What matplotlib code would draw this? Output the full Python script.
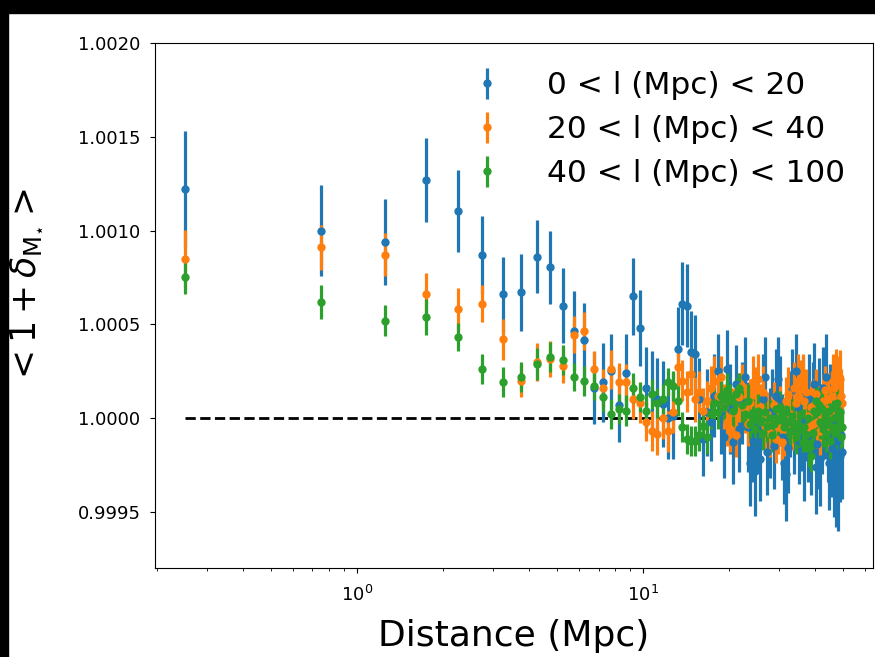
import matplotlib
matplotlib.use('Agg')
import matplotlib.pyplot as plt
from matplotlib.patches import Rectangle
from matplotlib.ticker import FormatStrFormatter
import numpy as np

# bin centres (Mpc)
distance = [0.25, 0.75, 1.25, 1.75, 2.25, 2.75, 3.25, 3.75, 4.25, 4.75,
            5.25, 5.75, 6.25, 6.75, 7.25, 7.75, 8.25, 8.75, 9.25, 9.75,
            10.25, 10.75, 11.25, 11.75, 12.25, 12.75, 13.25, 13.75, 14.25, 14.75,
            15.25, 15.75, 16.25, 16.75, 17.25, 17.75, 18.25, 18.75, 19.25, 19.75,
            20.25, 20.75, 21.25, 21.75, 22.25, 22.75, 23.25, 23.75, 24.25, 24.75,
            25.25, 25.75, 26.25, 26.75, 27.25, 27.75, 28.25, 28.75, 29.25, 29.75,
            30.25, 30.75, 31.25, 31.75, 32.25, 32.75, 33.25, 33.75, 34.25, 34.75,
            35.25, 35.75, 36.25, 36.75, 37.25, 37.75, 38.25, 38.75, 39.25, 39.75,
            40.25, 40.75, 41.25, 41.75, 42.25, 42.75, 43.25, 43.75, 44.25, 44.75,
            45.25, 45.75, 46.25, 46.75, 47.25, 47.75, 48.25, 48.75, 49.25, 49.75]

# deviations from 1, in units of 1e-4
blue = [12.2, 10.0, 9.4, 12.7, 11.05, 8.7, 6.6, 6.7, 8.6, 8.05,
        6.0, 4.65, 4.15, 1.6, 1.9, 2.5, 0.7, 2.4, 6.5, 4.8,
        1.6, 1.3, 1.0, 0.75, 0.0, 0.1, 3.7, 6.1, 6.0, 3.5,
        3.4, 1.0, -1.1, 0.3, -0.2, 1.2, 2.5, 0.4, -1.0, 2.6,
        0.5, -1.3, 1.8, -0.6, 0.8, 2.2, -0.5, -2.4, -1.2, -2.8,
        -0.4, -2.2, 1.0, 2.2, -1.8, -0.8, 0.4, -1.5, 1.2, 2.1,
        0.9, -1.0, -2.4, -3.0, -1.6, 0.2, 1.5, -0.5, 2.5, 0.6,
        -1.2, -0.3, 1.1, -2.0, 0.0, -0.9, 1.0, -1.8, 0.5, 1.8,
        -2.6, -1.4, 0.9, -2.2, -0.6, 1.6, 0.3, 2.2, -1.0, -2.4,
        0.5, -1.6, -0.3, -2.8, -3.4, -1.2, -3.6, -2.0, -0.9, -1.8]
blue_err = [3.1, 2.45, 2.3, 2.25, 2.2, 2.1, 2.0, 2.05, 1.95, 1.95,
            2.0, 2.1, 2.0, 1.9, 2.1, 2.0, 2.0, 2.1, 2.05, 2.05,
            2.2, 2.3, 2.2, 2.3, 2.2, 2.3, 2.2, 2.2, 2.2, 2.2,
            2.1, 2.2, 2.0, 2.3, 2.1, 2.2, 2.0, 2.3, 2.2, 2.1,
            2.4, 2.2, 2.1, 2.3, 2.2, 2.1, 2.4, 2.3, 2.2, 2.4,
            2.3, 2.2, 2.4, 2.1, 2.3, 2.4, 2.2, 2.3, 2.5, 2.2,
            2.4, 2.3, 2.2, 2.5, 2.4, 2.3, 2.2, 2.5, 2.0, 2.4,
            2.3, 2.5, 2.2, 2.4, 2.3, 2.5, 2.4, 2.3, 2.5, 2.2,
            2.5, 2.4, 2.3, 2.5, 2.4, 2.2, 2.5, 2.3, 2.4, 2.5,
            2.4, 2.6, 2.3, 2.5, 2.4, 2.6, 2.4, 2.5, 2.6, 2.5]

orange = [8.5, 9.1, 8.7, 6.6, 5.8, 6.1, 4.2, 2.0, 3.0, 3.15,
          2.8, 4.45, 4.65, 2.6, 1.6, 2.6, 1.9, 1.9, 1.0, 0.8,
          -0.2, -0.7, -0.85, 0.0, -0.7, 0.3, 2.7, 2.0, 1.4, 2.35,
          1.0, 1.4, 0.4, 0.9, 1.6, 2.0, 1.2, 2.2, 0.6, -0.2,
          -0.6, 0.3, -0.9, 1.1, 1.7, 0.5, -0.3, 0.8, 1.9, 1.5,
          2.1, 0.6, 1.4, -0.4, 0.2, -0.8, -0.2, 0.7, -1.1, -0.5,
          0.4, -1.3, -0.6, 0.9, 1.3, 0.2, -0.4, 1.6, 0.8, 2.0,
          1.1, 1.7, 2.1, 0.9, 1.4, 0.1, -0.5, 0.6, -0.3, 0.7,
          1.3, -0.2, 0.4, -0.7, 0.1, 0.9, 1.5, 0.5, 1.0, -0.4,
          0.3, 1.2, 2.0, 1.6, 2.3, 1.8, 0.9, 2.1, 1.2, 0.8]
orange_err = [1.5, 1.2, 1.15, 1.15, 1.15, 1.0, 1.1, 0.9, 1.0, 0.95,
              0.95, 1.0, 1.0, 0.95, 1.0, 1.05, 1.05, 1.0, 1.05, 1.05,
              1.05, 1.05, 1.1, 1.1, 1.1, 1.1, 1.1, 1.1, 1.1, 1.1,
              1.2, 1.1, 1.2, 1.1, 1.2, 1.3, 1.2, 1.1, 1.2, 1.3,
              1.2, 1.3, 1.2, 1.3, 1.2, 1.3, 1.2, 1.3, 1.4, 1.2,
              1.3, 1.2, 1.4, 1.3, 1.2, 1.3, 1.4, 1.2, 1.3, 1.4,
              1.3, 1.2, 1.4, 1.3, 1.4, 1.2, 1.3, 1.4, 1.3, 1.4,
              1.3, 1.4, 1.3, 1.4, 1.2, 1.4, 1.3, 1.4, 1.3, 1.4,
              1.3, 1.4, 1.3, 1.4, 1.3, 1.4, 1.3, 1.4, 1.4, 1.3,
              1.4, 1.3, 1.4, 1.5, 1.4, 1.5, 1.4, 1.5, 1.4, 1.5]

green = [7.5, 6.2, 5.2, 5.4, 4.3, 2.6, 1.9, 2.2, 2.9, 3.25,
         3.1, 2.2, 2.0, 1.7, 1.1, 0.2, 0.5, 0.4, 1.6, 1.1,
         0.4, 1.3, 0.8, 1.0, 1.9, 1.7, 0.9, -0.5, -1.1, -1.2,
         -1.2, -0.9, -0.4, -1.0, 0.2, 0.8, 0.3, 1.2, 0.6, 1.5,
         1.0, 0.4, 1.3, 1.6, 0.7, 0.2, 0.9, -0.3, 0.1, -0.6,
         0.4, -0.2, -0.8, 0.3, -0.4, 0.0, -0.9, -0.3, 0.5, -0.1,
         0.6, 0.2, -0.5, 0.3, -0.2, -0.7, 0.1, -0.4, -1.0, -0.3,
         -0.6, 0.2, -1.3, -0.5, -0.9, 0.0, -1.6, -2.0, -0.8, 0.4,
         0.9, 0.3, 0.7, -0.2, 0.5, -0.6, 0.1, -0.9, -0.3, 0.4,
         -1.2, -0.5, 0.6, 0.0, -0.7, 0.8, -0.4, 0.3, -1.0, -0.5]
green_err = [0.9, 0.9, 0.8, 0.95, 0.75, 0.8, 0.8, 0.8, 0.85, 0.8,
             0.8, 0.75, 0.8, 0.75, 0.8, 0.8, 0.8, 0.8, 0.8, 0.8,
             0.8, 0.8, 0.8, 0.8, 0.75, 0.8, 0.8, 0.8, 0.8, 0.8,
             0.8, 0.85, 0.8, 0.9, 0.8, 0.85, 0.9, 0.8, 0.85, 0.9,
             0.8, 0.9, 0.85, 0.8, 0.9, 0.85, 0.9, 0.8, 0.9, 0.85,
             0.9, 0.85, 0.9, 0.8, 0.9, 0.95, 0.85, 0.9, 0.95, 0.9,
             0.85, 0.9, 0.95, 0.9, 0.85, 0.95, 0.9, 0.95, 0.9, 0.85,
             0.95, 0.9, 0.95, 1.0, 0.9, 0.95, 1.0, 0.9, 0.95, 1.0,
             0.9, 1.0, 0.95, 0.9, 1.0, 0.95, 1.0, 0.9, 1.0, 0.95,
             1.0, 0.95, 1.0, 1.0, 0.95, 1.0, 1.0, 0.95, 1.0, 1.0]

labels = ['0 < l (Mpc) < 20', '20 < l (Mpc) < 40', '40 < l (Mpc) < 100']

x = np.array(distance)

fig = plt.figure(figsize=(8.75, 6.57), dpi=100)
ax = fig.add_axes([155/875, 1 - 568/657, 718/875, 525/657])

ax.hlines(1.0, x.min(), x.max(), colors='k', linestyles='--', lw=2, zorder=1)

for vals, errs, lab in [(blue, blue_err, labels[0]),
                        (orange, orange_err, labels[1]),
                        (green, green_err, labels[2])]:
    y = 1 + np.array(vals) * 1e-4
    e = np.array(errs) * 1e-4
    ax.errorbar(x, y, yerr=e, fmt='o', ms=5, elinewidth=2.3, label=lab)

ax.set_xscale('log')
ax.set_xlim(0.197, 63.8)
ax.set_ylim(0.9992, 1.0020)
ax.set_yticks([0.9995, 1.0000, 1.0005, 1.0010, 1.0015, 1.0020])
ax.yaxis.set_major_formatter(FormatStrFormatter('%.4f'))
ax.tick_params(axis='y', labelsize=13, pad=7)
ax.tick_params(axis='x', which='major', labelsize=13, pad=9)

ax.set_xlabel('Distance (Mpc)', fontsize=26, labelpad=10)
ax.set_ylabel(r'$< 1 + \delta_{\mathrm{M}_{\star}} >$', fontsize=25)
ax.yaxis.set_label_coords(-0.155, 0.535)

ax.legend(loc='upper right', frameon=False, fontsize=22.5, labelspacing=0.48,
          handletextpad=0.9)

# black screenshot borders
fig.add_artist(Rectangle((0, 1 - 13/657), 1, 13/657, color='black',
                         transform=fig.transFigure, zorder=10))
fig.add_artist(Rectangle((0, 0), 8/875, 1, color='black',
                         transform=fig.transFigure, zorder=10))

fig.savefig('out.png', dpi=100)
